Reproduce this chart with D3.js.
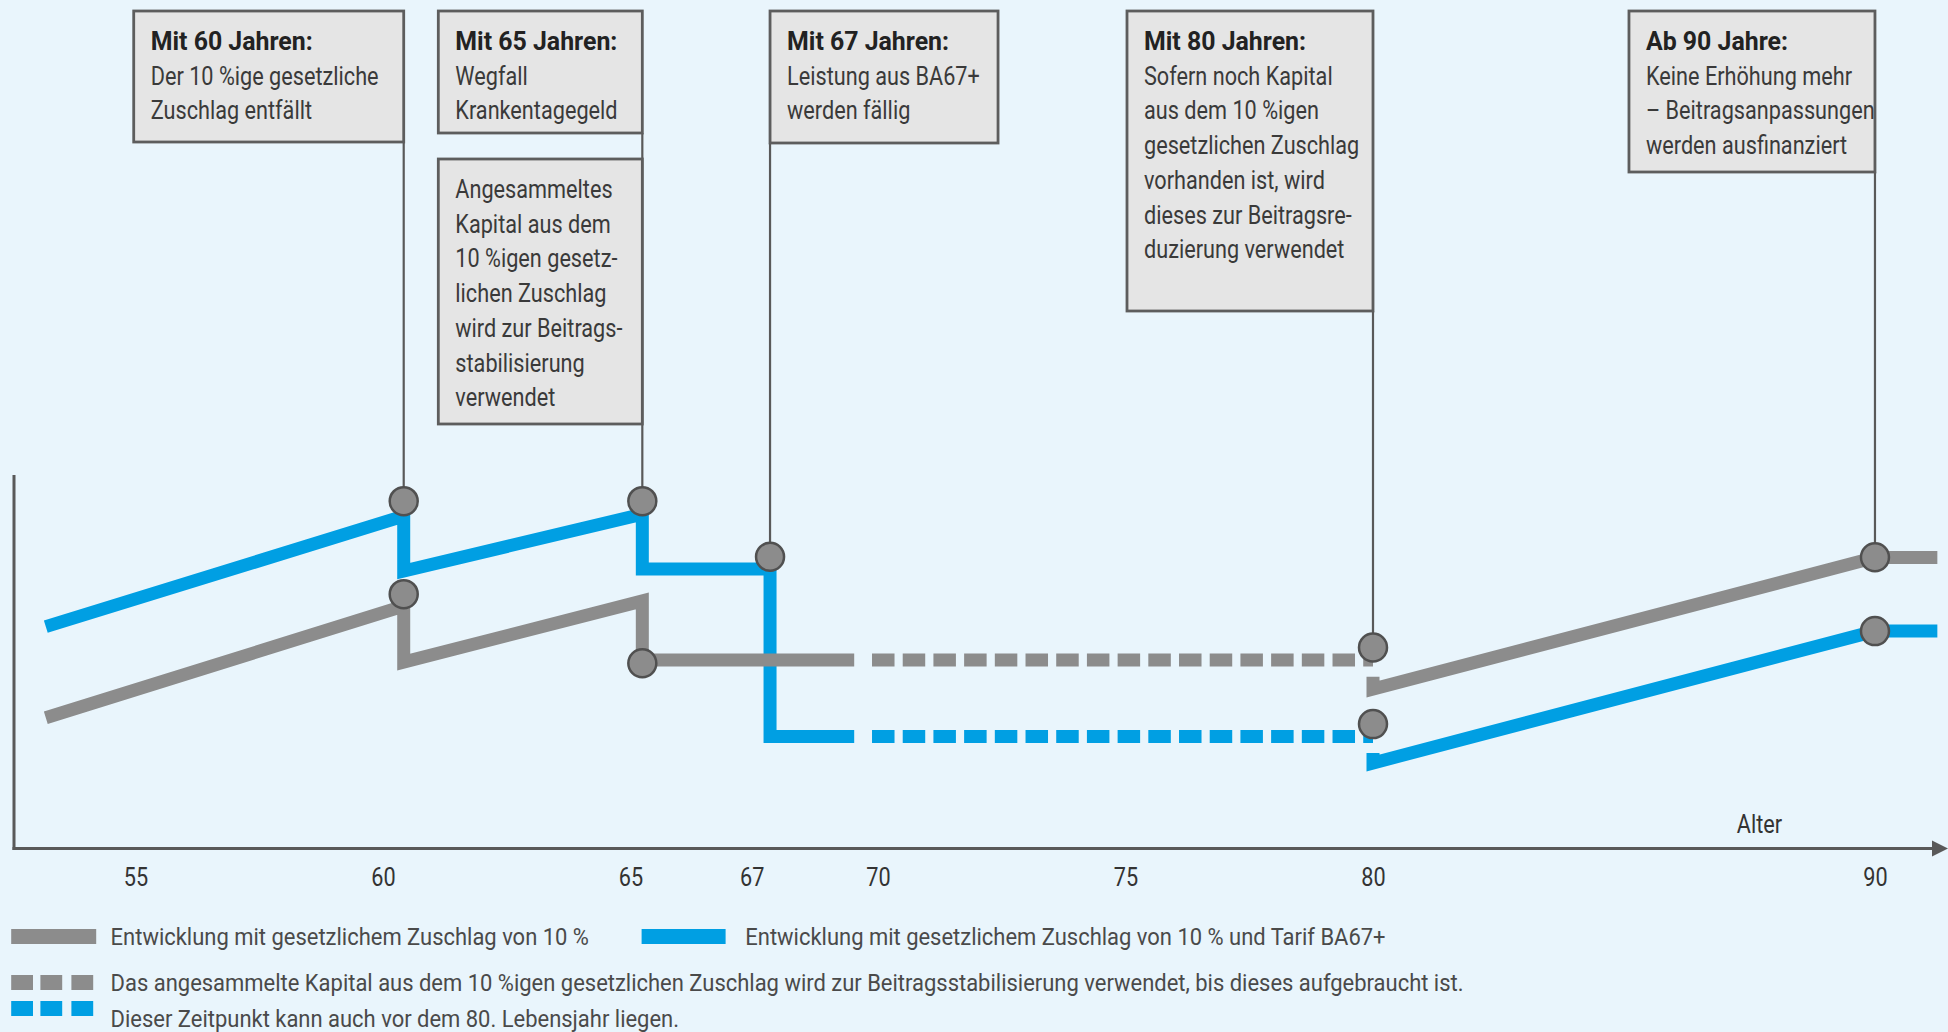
<!DOCTYPE html>
<html><head><meta charset="utf-8">
<script src="https://cdn.jsdelivr.net/npm/d3@7"></script>
<style>
html,body{margin:0;padding:0;background:#e9f5fc;overflow:hidden;}
svg{display:block;}
</style></head><body>
<svg id="chart" width="1948" height="1032"></svg>
<script>
// ---------------- DATA ----------------
const tickLabels = ["55", "60", "65", "67", "70", "75", "80", "90"];
const tickAges   = [55, 60, 65, 67.45, 70, 75, 80, 90.14];
const axisTitle = "Alter";

// Series "Entwicklung mit gesetzlichem Zuschlag von 10 %" (grey) – [age, relative premium]
const graySolidA = [[53.19,35.0],[60.42,64.9],[60.42,49.9],[65.24,66.3],[65.24,50.5],[69.52,50.5]];
const grayDashed = [[69.88,50.5],[80.0,50.5]];
const graySolidB = [[80.0,46.0],[80.0,42.7],[90.14,77.9],[91.4,77.9]];

// Series "… und Tarif BA67+" (blue)
const blueSolidA = [[53.19,59.4],[60.42,89.0],[60.42,74.3],[65.24,89.5],[65.24,74.8],[67.82,74.8],[67.82,30.0],[69.52,30.0]];
const blueDashed = [[69.88,30.0],[80.0,30.0]];
const blueSolidB = [[80.0,25.6],[80.0,22.9],[90.14,58.2],[91.4,58.2]];

// Event markers
const markerPoints = [[60.42,93.0],[60.42,68.1],[65.24,93.0],[65.24,49.6],[67.82,78.1],[80.0,53.8],[80.0,33.3],[90.14,78.0],[90.14,58.2]];

// Annotations
const eventAges   = [60.42, 65.24, 67.82, 80.0, 90.14];
const eventTitles = ["Mit 60 Jahren:", "Mit 65 Jahren:", "Mit 67 Jahren:", "Mit 80 Jahren:", "Ab 90 Jahre:"];
const eventTexts  = [
  ["Der 10 %ige gesetzliche", "Zuschlag entfällt"],
  ["Wegfall", "Krankentagegeld"],
  ["Leistung aus BA67+", "werden fällig"],
  ["Sofern noch Kapital", "aus dem 10 %igen", "gesetzlichen Zuschlag", "vorhanden ist, wird", "dieses zur Beitragsre-", "duzierung verwendet"],
  ["Keine Erhöhung mehr", "– Beitragsanpassungen", "werden ausfinanziert"]
];
const note65Text = ["Angesammeltes", "Kapital aus dem", "10 %igen gesetz-", "lichen Zuschlag", "wird zur Beitrags-", "stabilisierung", "verwendet"];
const markerTopValues = [93.0, 93.0, 78.1, 53.8, 78.0];

const legendLabels = [
  "Entwicklung mit gesetzlichem Zuschlag von 10 %",
  "Entwicklung mit gesetzlichem Zuschlag von 10 % und Tarif BA67+",
  "Das angesammelte Kapital aus dem 10 %igen gesetzlichen Zuschlag wird zur Beitragsstabilisierung verwendet, bis dieses aufgebraucht ist.",
  "Dieser Zeitpunkt kann auch vor dem 80. Lebensjahr liegen."
];

// ---------------- LAYOUT / STYLE ----------------
const C = {
  bg: "#e9f5fc", gray: "#8c8c8c", blue: "#009fe3", axis: "#595959",
  boxFill: "#e5e5e5", boxStroke: "#5d5d5d", text: "#3a3a3a", title: "#222222", legendText: "#4a4a4a"
};
const FONT = 'Roboto, "Open Sans", "Noto Sans", sans-serif';
const CONDENSE = 0.85, CONDENSE_BOLD = 0.975, CONDENSE_LEGEND = 0.915;
const boxLayout = [
  {side: "right", top: 11, w: 270, h: 131},
  {side: "right", top: 11, w: 204, h: 122},
  {side: "left",  top: 11, w: 228, h: 132},
  {side: "right", top: 11, w: 246, h: 300},
  {side: "right", top: 11, w: 246, h: 161}
];
const note65Layout = {side: "right", top: 159, w: 204, h: 265};
const PAD = 17, FIRST = 39, STEP = 34.7, FS = 25.5;

const svg = d3.select("#chart");
const x = d3.scaleLinear().domain([55, 80]).range([135.4, 1373]);
const y = d3.scaleLinear().domain([0, 100]).range([848.5, 475]);

function condense(sel, f) {
  sel.each(function () {
    const w = this.getComputedTextLength();
    if (w > 0) {
      this.setAttribute("textLength", (w * f).toFixed(2));
      this.setAttribute("lengthAdjust", "spacingAndGlyphs");
    }
  });
}

svg.append("rect").attr("width", 1948).attr("height", 1032).attr("fill", C.bg);

// ---------------- AXES ----------------
svg.append("line").attr("x1", 14).attr("x2", 14).attr("y1", y(100)).attr("y2", y(0) + 1.5)
  .attr("stroke", C.axis).attr("stroke-width", 3);
svg.append("line").attr("x1", 12.5).attr("x2", 1936).attr("y1", y(0)).attr("y2", y(0))
  .attr("stroke", C.axis).attr("stroke-width", 3);
svg.append("path").attr("d", `M1932,${y(0) - 8}L1948,${y(0)}L1932,${y(0) + 8}Z`).attr("fill", C.axis);

const axis = d3.axisBottom(x).tickValues(tickAges).tickFormat((d, i) => tickLabels[i]).tickSize(0).tickPadding(19);
const gAxis = svg.append("g").attr("transform", `translate(0,${y(0)})`).call(axis);
gAxis.select(".domain").remove();
const tickText = gAxis.selectAll("text").attr("font-size", FS).attr("font-family", FONT).attr("fill", "#333");
condense(tickText, CONDENSE);

const alter = svg.append("text").attr("x", 1759.5).attr("y", 833).attr("text-anchor", "middle")
  .attr("font-family", FONT).attr("font-size", FS).attr("fill", "#333").text(axisTitle);
condense(alter, CONDENSE);

// ---------------- CONNECTORS + BOXES ----------------
function boxX(age, lay) { return lay.side === "right" ? x(age) - lay.w : x(age); }

eventAges.forEach((age, i) => {
  const lay = boxLayout[i];
  svg.append("line").attr("x1", x(age)).attr("x2", x(age))
    .attr("y1", lay.top + lay.h).attr("y2", y(markerTopValues[i]))
    .attr("stroke", C.axis).attr("stroke-width", 2.2);
});

function drawBox(age, lay, title, lines) {
  const bx = boxX(age, lay);
  svg.append("rect").attr("x", bx).attr("y", lay.top).attr("width", lay.w).attr("height", lay.h)
    .attr("fill", C.boxFill).attr("stroke", C.boxStroke).attr("stroke-width", 2.8);
  let row = 0;
  if (title) {
    const t = svg.append("text").attr("x", bx + PAD).attr("y", lay.top + FIRST)
      .attr("font-family", FONT).attr("font-weight", 700).attr("font-size", FS).attr("fill", C.title).text(title);
    condense(t, CONDENSE_BOLD);
    row = 1;
  }
  lines.forEach((ln, j) => {
    const t = svg.append("text").attr("x", bx + PAD).attr("y", lay.top + FIRST + (row + j) * STEP)
      .attr("font-family", FONT).attr("font-size", FS).attr("fill", C.text).text(ln);
    condense(t, CONDENSE);
  });
}
eventAges.forEach((age, i) => drawBox(age, boxLayout[i], eventTitles[i], eventTexts[i]));
drawBox(eventAges[1], note65Layout, null, note65Text);

// ---------------- LINES ----------------
const line = d3.line().x(d => x(d[0])).y(d => y(d[1]));
function path(data, color, dashed) {
  svg.append("path").attr("d", line(data)).attr("fill", "none").attr("stroke", color)
    .attr("stroke-width", 13).attr("stroke-linejoin", "miter").attr("stroke-miterlimit", 10)
    .attr("stroke-linecap", "butt").attr("stroke-dasharray", dashed ? "22.5 8.2" : null);
}
path(blueSolidA, C.blue); path(blueDashed, C.blue, true); path(blueSolidB, C.blue);
path(graySolidA, C.gray); path(grayDashed, C.gray, true); path(graySolidB, C.gray);

svg.selectAll("circle.marker").data(markerPoints).enter().append("circle")
  .attr("cx", d => x(d[0])).attr("cy", d => y(d[1])).attr("r", 14)
  .attr("fill", C.gray).attr("stroke", "#505050").attr("stroke-width", 2.5);

// ---------------- LEGEND ----------------
const LFS = 24;
function legendText(tx, ty, s) {
  const t = svg.append("text").attr("x", tx).attr("y", ty).attr("font-family", FONT)
    .attr("font-size", LFS).attr("fill", C.legendText).text(s);
  condense(t, CONDENSE_LEGEND);
}
svg.append("rect").attr("x", 11.2).attr("y", 929).attr("width", 85).attr("height", 15).attr("fill", C.gray);
legendText(110.6, 945, legendLabels[0]);
svg.append("rect").attr("x", 641.6).attr("y", 929).attr("width", 84).attr("height", 15).attr("fill", C.blue);
legendText(745.3, 945, legendLabels[1]);
[11.2, 40.4, 71.4].forEach(sx => {
  svg.append("rect").attr("x", sx).attr("y", 975).attr("width", 21.8).attr("height", 15).attr("fill", C.gray);
  svg.append("rect").attr("x", sx).attr("y", 1001).attr("width", 21.8).attr("height", 15).attr("fill", C.blue);
});
legendText(110.6, 991, legendLabels[2]);
legendText(110.6, 1027, legendLabels[3]);
</script>
</body></html>
